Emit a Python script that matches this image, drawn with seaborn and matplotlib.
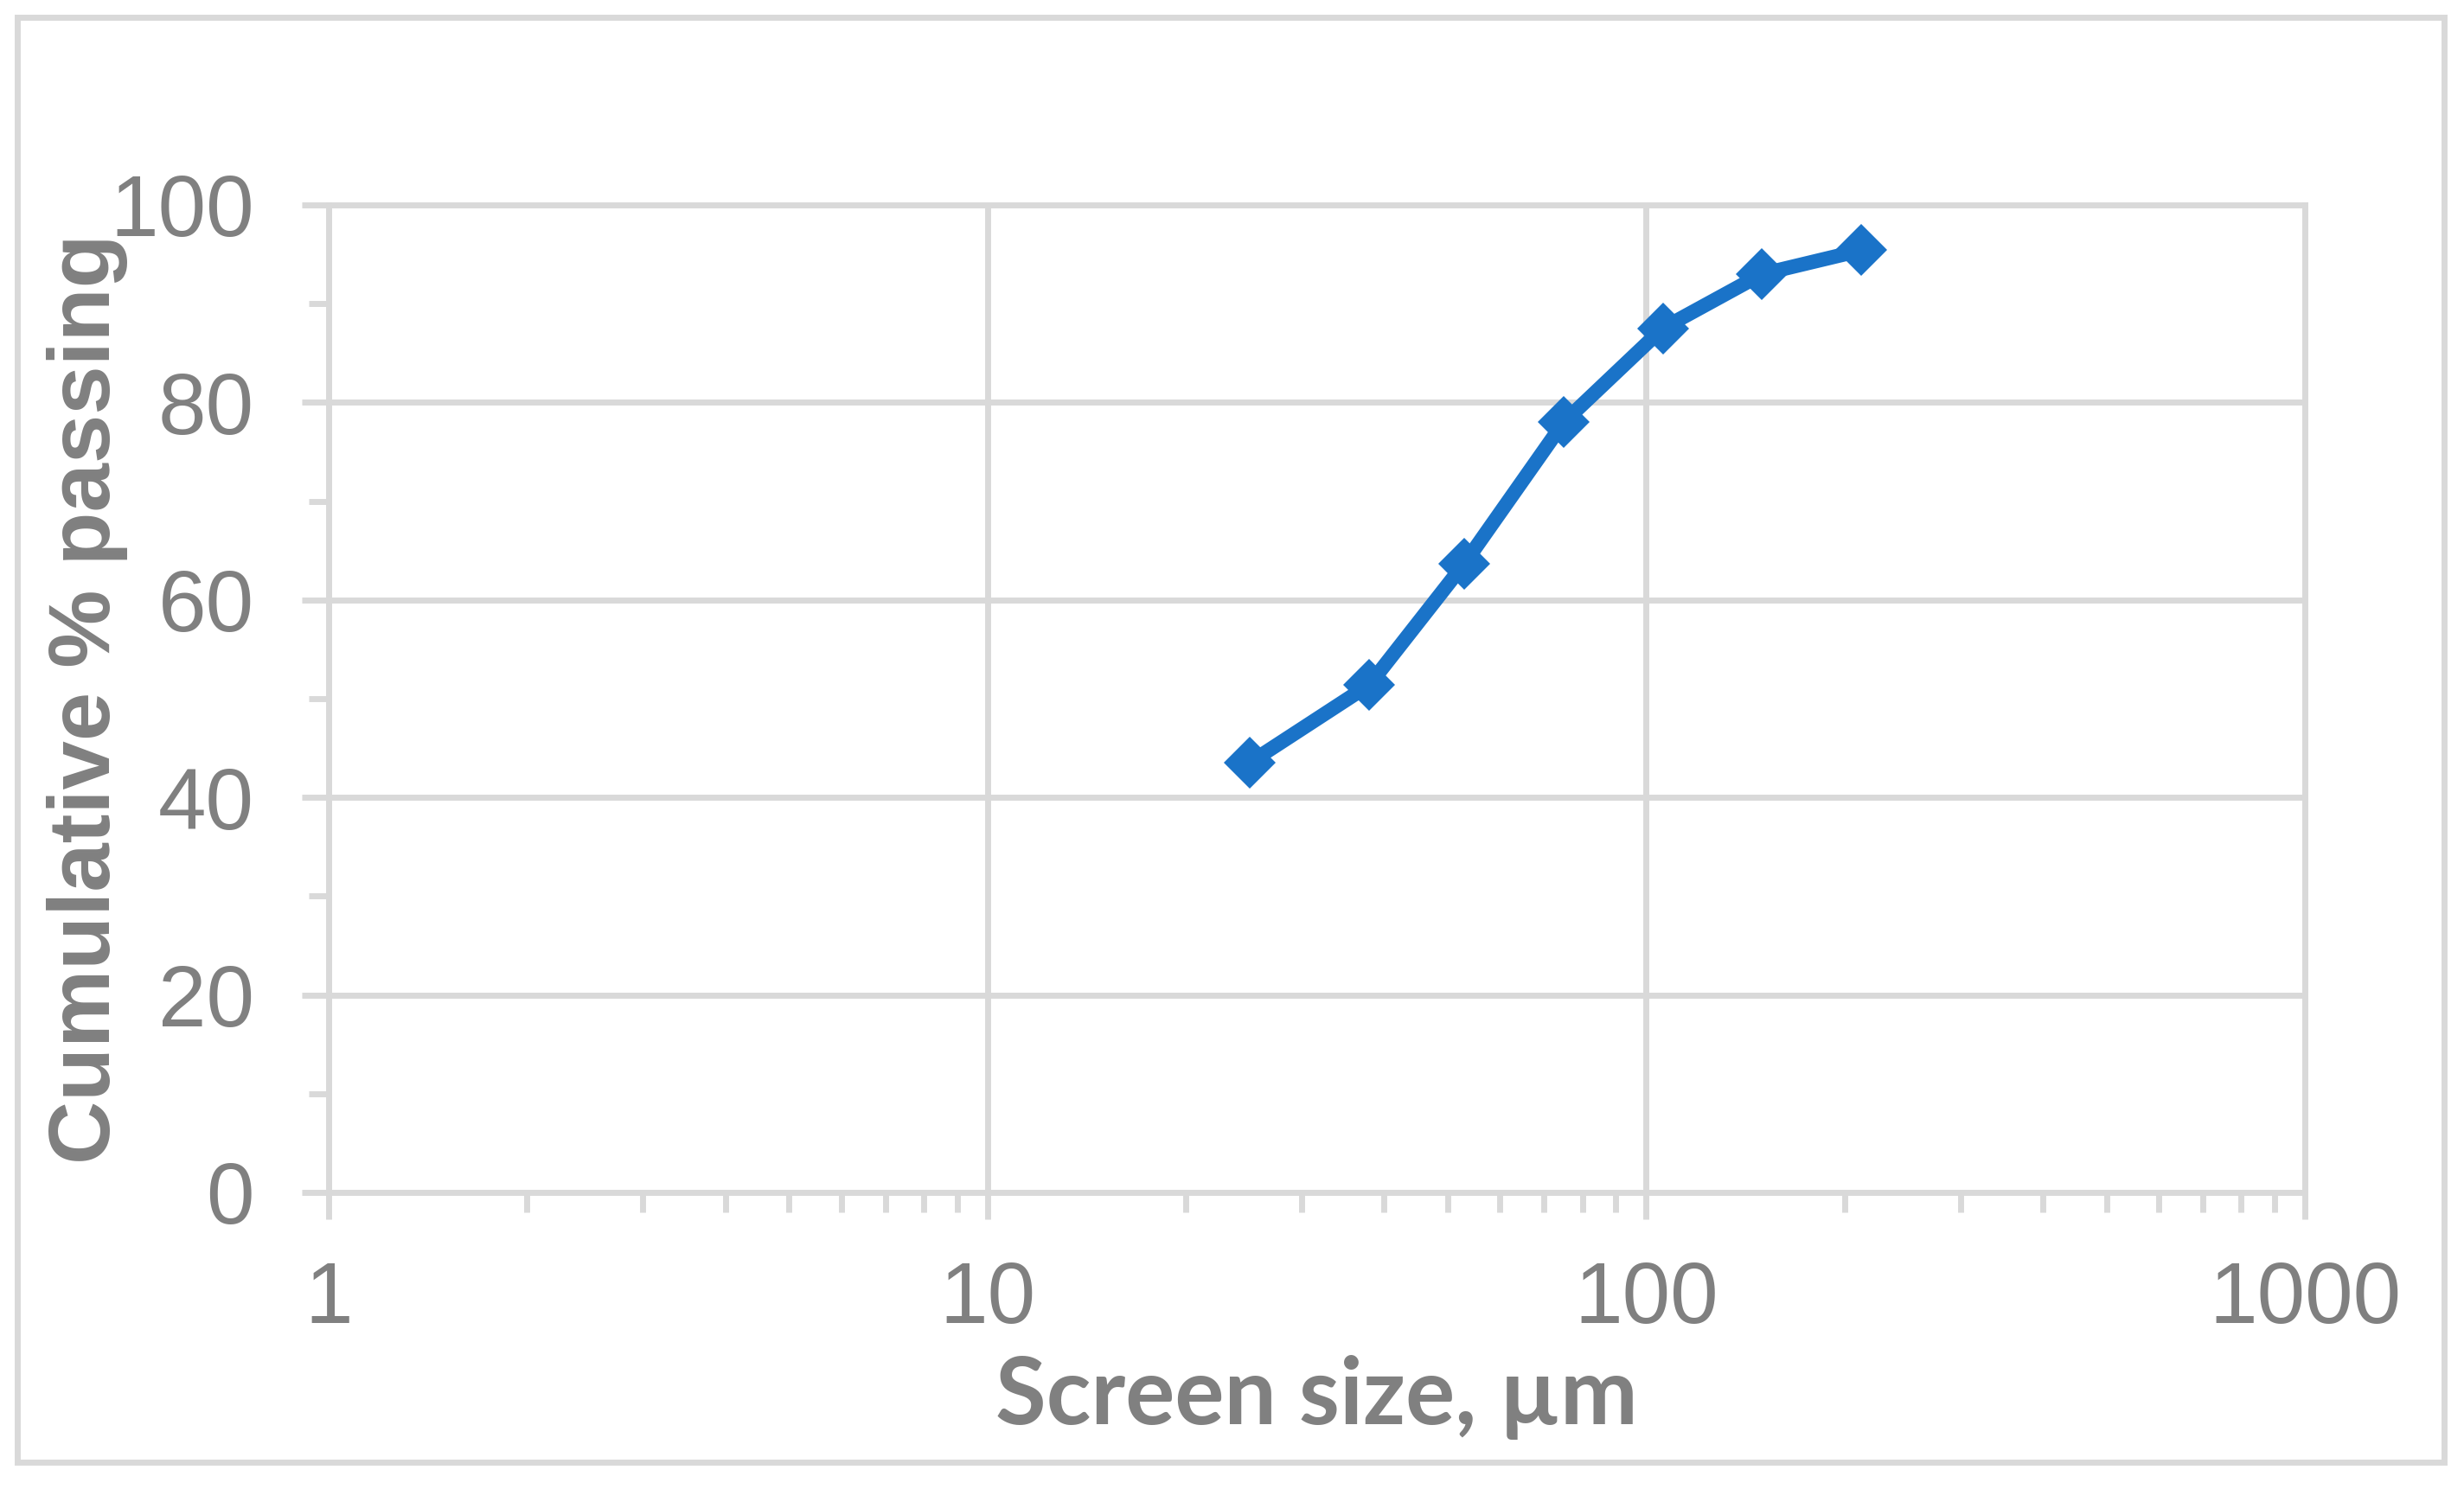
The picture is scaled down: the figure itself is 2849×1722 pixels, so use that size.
import numpy as np
import matplotlib
matplotlib.use("Agg")
import matplotlib.pyplot as plt
import matplotlib.ticker as mticker
from matplotlib.patches import Rectangle
import seaborn as sns
import pandas as pd

# sieve data
screen_size = [25, 38, 53, 75, 106, 150, 212]
cum_passing = [43.5, 51.4, 63.7, 78.0, 87.5, 93.0, 95.4]
x_ticks = [1, 10, 100, 1000]
x_labels = ['1', '10', '100', '1000']
y_ticks = [0, 20, 40, 60, 80, 100]

grid_c = '#D9D9D9'
text_c = '#808080'
line_c = '#1A73C8'

sns.set_style('white')
plt.rcParams['font.family'] = ['Liberation Sans', 'DejaVu Sans']

df = pd.DataFrame({'size': screen_size, 'passing': cum_passing})

fig = plt.figure(figsize=(28.49, 17.22), dpi=100)
ax = fig.add_axes([0.1334, 0.1992, 0.8020, 0.6632])

ax.set_xscale('log')
ax.set_xlim(1, 1000)
ax.set_ylim(0, 100)

sns.lineplot(data=df, x='size', y='passing', ax=ax, color=line_c, linewidth=12,
             marker='D', markersize=31, markeredgewidth=0, zorder=5)

ax.set_xticks(x_ticks)
ax.set_xticklabels(x_labels)
ax.xaxis.set_minor_locator(mticker.LogLocator(base=10, subs=np.arange(2, 10)))
ax.xaxis.set_minor_formatter(mticker.NullFormatter())
ax.set_yticks(y_ticks)
ax.yaxis.set_minor_locator(mticker.MultipleLocator(10))

ax.grid(True, which='major', color=grid_c, linewidth=5)
ax.set_axisbelow(True)
for sp in ax.spines.values():
    sp.set_color(grid_c)
    sp.set_linewidth(5)

ax.tick_params(axis='both', which='both', bottom=True, left=True, top=False, right=False)
ax.tick_params(axis='both', which='major', direction='out', length=22, width=5,
               color=grid_c, labelsize=72, labelcolor=text_c)
ax.tick_params(axis='both', which='minor', direction='out', length=16.5, width=5,
               color=grid_c)
ax.tick_params(axis='x', which='major', pad=34)
ax.tick_params(axis='y', which='major', pad=40)

ax.set_xlabel('Screen size, µm', fontsize=77, fontweight='bold', color=text_c,
              family=['Lato', 'DejaVu Sans'])
ax.set_ylabel('Cumulative % passing', fontsize=73, fontweight='bold', color=text_c)
ax.xaxis.set_label_coords(0.5, -0.165)
ax.yaxis.set_label_coords(-0.1015, 0.5)

# chart frame
fig.patches.append(Rectangle((0.0070, 0.0180), 0.9849, 0.9704, transform=fig.transFigure,
                             fill=False, edgecolor=grid_c, linewidth=5))

fig.savefig('out.png', dpi=100, facecolor='white')
